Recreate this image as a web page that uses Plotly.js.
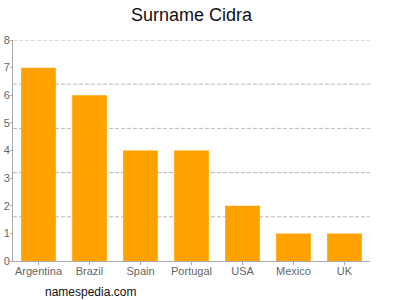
<!DOCTYPE html>
<html><head><meta charset="utf-8">
<script src="https://cdn.plot.ly/plotly-3.0.1.min.js"></script>
<style>html,body{margin:0;padding:0;background:#fff}</style>
</head><body>
<div id="chart" style="width:400px;height:300px"></div>
<script>
const countries = ["Argentina","Brazil","Spain","Portugal","USA","Mexico","UK"];
const counts = [7,6,4,4,2,1,1];
const gridVals = [1.6,3.2,4.8,6.4,8];
const titleText = "Surname Cidra";
const sourceText = "namespedia.com";

const traces = [
  {type:"bar", x:countries, y:counts, marker:{color:"#ffa200"}, hoverinfo:"skip"}
];
const gridShapes = gridVals.map(v => ({
  type:"line", xref:"paper", x0:0, x1:1, yref:"y", y0:v, y1:v,
  line:{color:"#b8b8b8", width:1, dash:"4px,2px"}, layer:"below"
}));
const layout = {
  width:400, height:300,
  margin:{l:13, r:30, t:40, b:39},
  paper_bgcolor:"#fff", plot_bgcolor:"#fff",
  showlegend:false, bargap:0.32,
  font:{family:"Liberation Sans, Arial, sans-serif", color:"#555", size:11},
  title:{text:titleText, x:0.5, xref:"paper", y:0.95, yanchor:"middle", font:{size:18, color:"#111"}},
  xaxis:{showline:true, linecolor:"#aaa", linewidth:1, ticks:"outside", ticklen:3, tickcolor:"#aaa", showgrid:false, ticklabelstandoff:-3, tickfont:{size:11, color:"#666"}},
  yaxis:{range:[0,8], dtick:1, showgrid:false, zeroline:false, showline:true, linecolor:"#aaa", ticks:"outside", ticklen:2, tickcolor:"#aaa", ticklabelstandoff:-2, tickfont:{size:11, color:"#666"}},
  shapes:gridShapes,
  annotations:[{text:sourceText, xref:"paper", yref:"paper", x:0.084, y:-0.14, xanchor:"left", yanchor:"middle", showarrow:false, font:{size:12, color:"#111"}}]
};
Plotly.newPlot("chart", traces, layout, {staticPlot:true});
</script>
</body></html>
